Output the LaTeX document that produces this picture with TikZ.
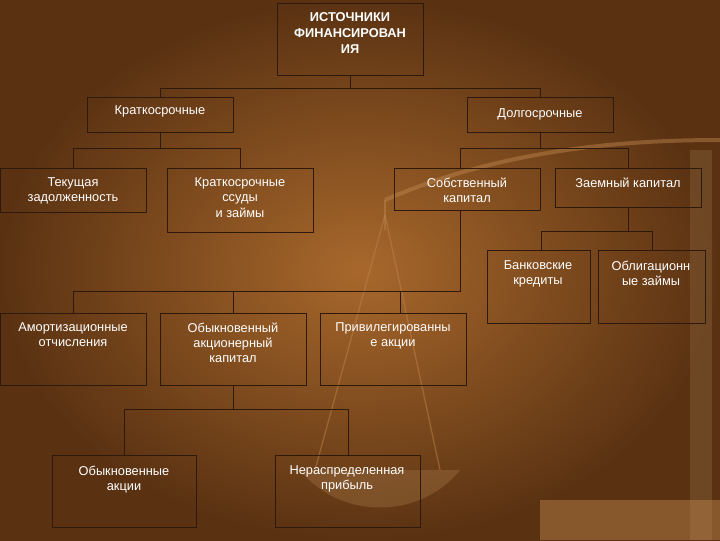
\documentclass[tikz,border=0pt]{standalone}
\usepackage{fontspec}
\setmainfont{Liberation Sans}
\begin{document}
\begin{tikzpicture}[x=0.75pt,y=-0.75pt,
  box/.style 2 args={draw=boxline,line width=0.9pt,inner sep=0pt,anchor=north west,minimum width=#1*0.75pt,minimum height=#2*0.75pt},
  lbl/.style={text=white,font=\fontsize{9.6}{11.5}\selectfont,align=center,anchor=north},
  con/.style={draw=boxline,line width=0.9pt}]
\definecolor{boxline}{HTML}{2E1A0C}
\definecolor{bgdark}{HTML}{5A3212}
\definecolor{bglight}{HTML}{A8682C}
\definecolor{scalecol}{HTML}{C08850}
\fill[inner color=bglight,outer color=bgdark] (0,0) rectangle (720,540);
\useasboundingbox (0,0) rectangle (720,540);
% faint scales
\begin{scope}[opacity=0.45]
\fill[scalecol!70!black] (690,150) rectangle (712,540);
\fill[scalecol] (540,500) rectangle (720,540);
\draw[scalecol,line width=3pt] (385,200) .. controls (500,150) and (620,140) .. (720,140);
\draw[scalecol,line width=1pt] (385,215) -- (315,470) (385,215) -- (440,470);
\fill[scalecol!80!black] (300,470) .. controls (340,520) and (420,520) .. (460,470) -- cycle;
\draw[scalecol,line width=1pt] (385,200) -- (385,230);
\end{scope}
% nodes
\node[box={146}{72}] (top) at (277,3) {};
\node[lbl,font=\bfseries\fontsize{9.6}{12}\selectfont] (topt) at (350,8) {ИСТОЧНИКИ\\ФИНАНСИРОВАН\\ИЯ};
\node[box={146}{35}] (ks) at (87,97) {};
\node[lbl] (kst) at (160,101) {Краткосрочные};
\node[box={146}{35}] (ds) at (467,97) {};
\node[lbl] (dst) at (540,104) {Долгосрочные};
\node[box={146}{44}] (tz) at (0,168) {};
\node[lbl] (tzt) at (73,173) {Текущая\\задолженность};
\node[box={146}{64}] (ksz) at (167,168) {};
\node[lbl] (kszt) at (240,173) {Краткосрочные\\ссуды\\и займы};
\node[box={146}{42}] (sk) at (394,168) {};
\node[lbl] (skt) at (467,173) {Собственный\\капитал};
\node[box={146}{39}] (zk) at (555,168) {};
\node[lbl] (zkt) at (628,173) {Заемный капитал};
\node[box={103}{73}] (bk) at (487,250) {};
\node[lbl] (bkt) at (538,256) {Банковские\\кредиты};
\node[box={107}{73}] (oz) at (598,250) {};
\node[lbl] (ozt) at (651,256) {Облигационн\\ые займы};
\node[box={146}{72}] (ao) at (0,313) {};
\node[lbl] (aot) at (73,318) {Амортизационные\\отчисления};
\node[box={146}{72}] (oak) at (160,313) {};
\node[lbl] (oakt) at (233,318) {Обыкновенный\\акционерный\\капитал};
\node[box={146}{72}] (pa) at (320,313) {};
\node[lbl] (pat) at (393,318) {Привилегированны\\е акции};
\node[box={144}{72}] (oa) at (52,455) {};
\node[lbl] (oat) at (124,461) {Обыкновенные\\акции};
\node[box={145}{72}] (np) at (275,455) {};
\node[lbl] (npt) at (347,461) {Нераспределенная\\прибыль};
% connectors
\draw[con] (top.south) -- ++(0,12) -| (ks.north);
\draw[con] (top.south) ++(0,12) -| (ds.north);
\draw[con] (ks.south) -- ++(0,15) -| (tz.north);
\draw[con] (ks.south) ++(0,15) -| (ksz.north);
\draw[con] (ds.south) -- ++(0,15) -| ([xshift=-5.25pt]sk.north);
\draw[con] (ds.south) ++(0,15) -| (zk.north);
\draw[con] ([xshift=-5.25pt]sk.south) -- ++(0,80) -| (ao.north);
\draw[con] ([xshift=-5.25pt]sk.south) ++(0,80) -| (oak.north);
\draw[con] ([xshift=-5.25pt]sk.south) ++(0,80) -| ([xshift=5.25pt]pa.north);
\draw[con] (zk.south) -- ++(0,23) -| ([xshift=2pt]bk.north);
\draw[con] (zk.south) ++(0,23) -| (oz.north);
\draw[con] (oak.south) -- ++(0,23) -| (oa.north);
\draw[con] (oak.south) ++(0,23) -| (np.north);
\end{tikzpicture}
\end{document}
